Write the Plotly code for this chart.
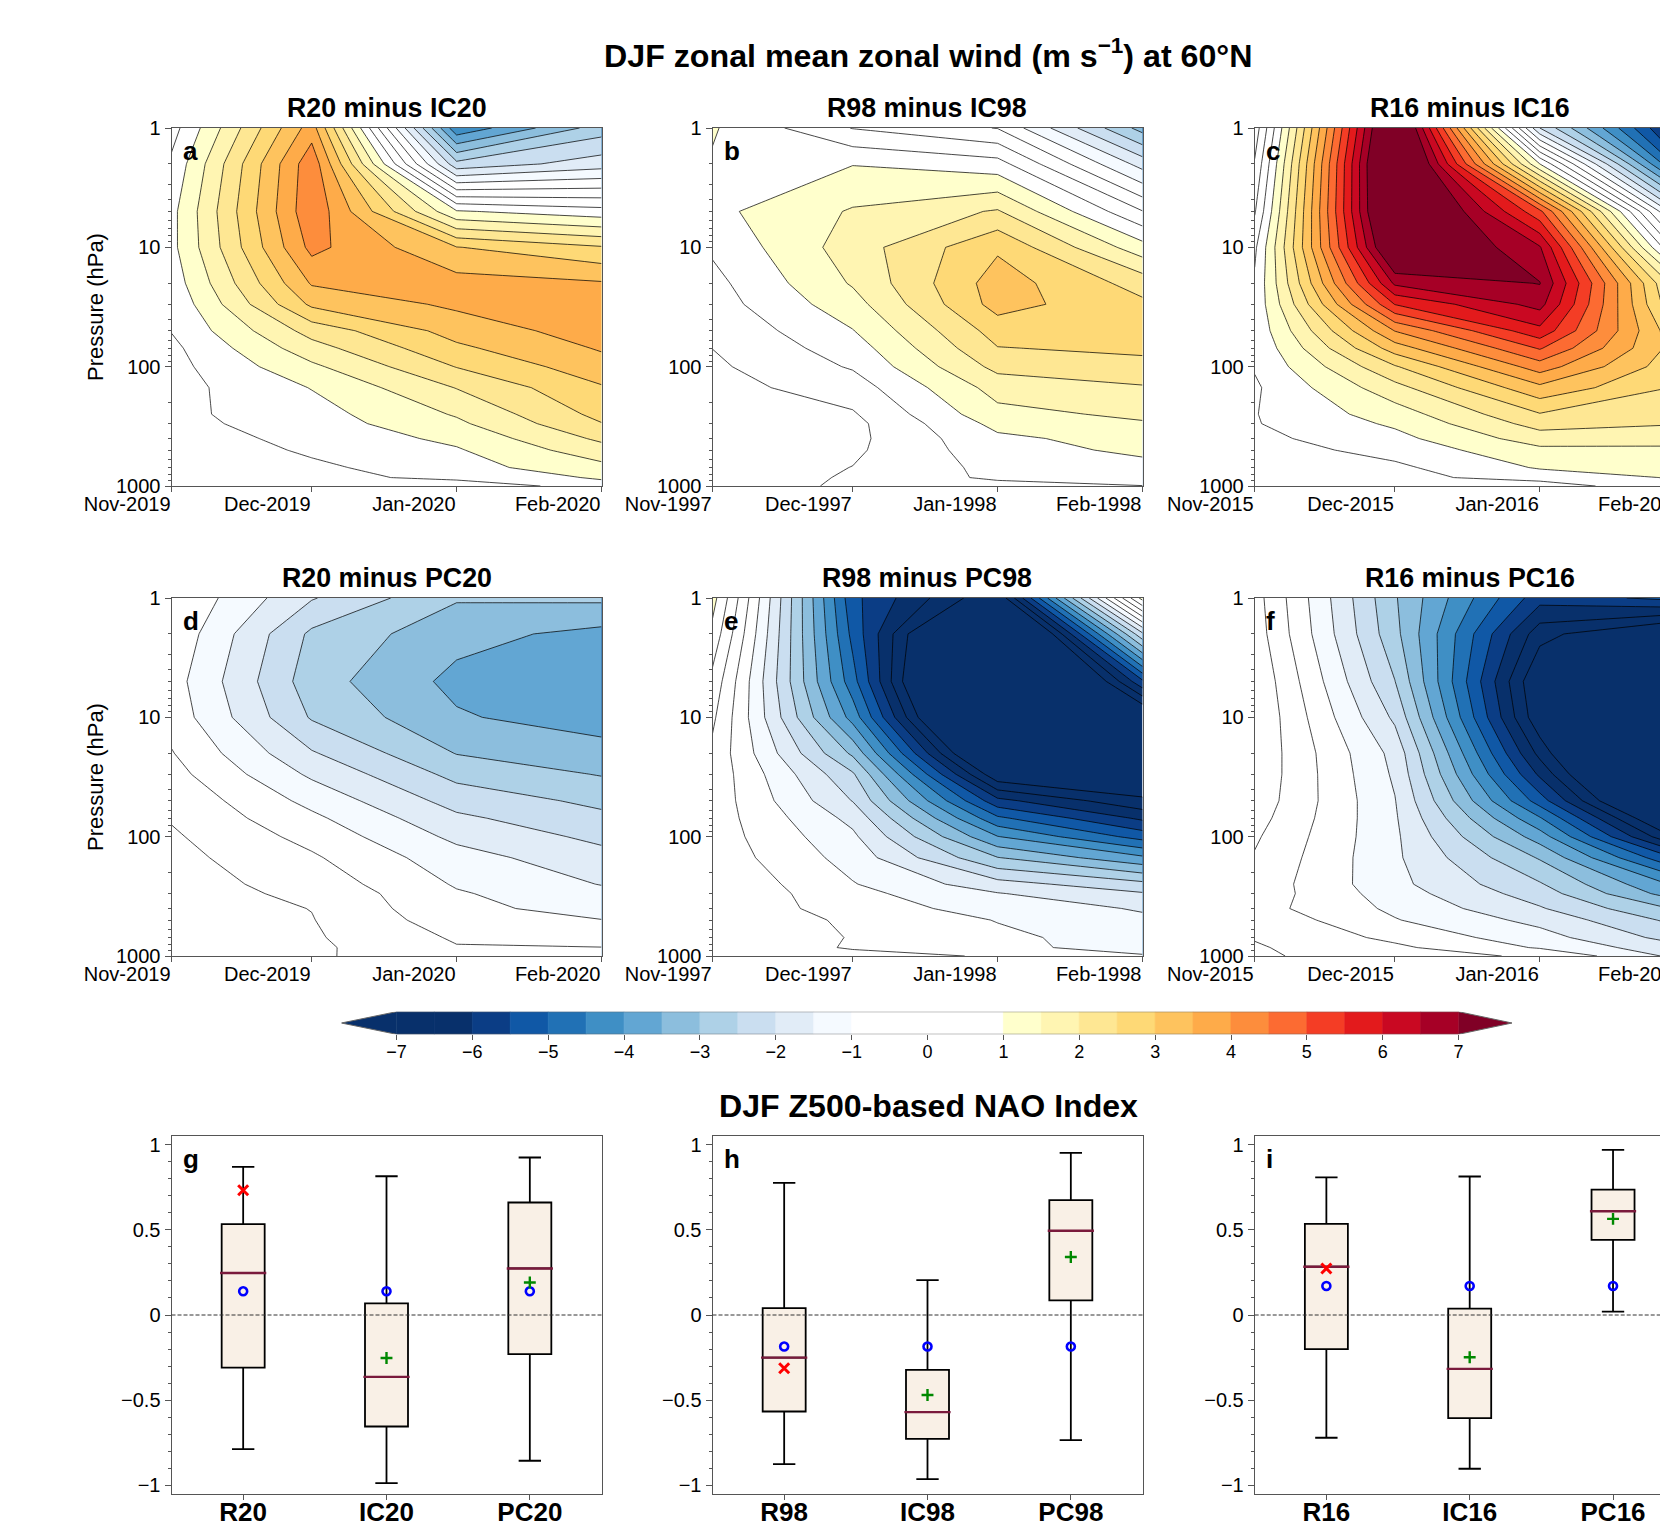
import plotly.graph_objects as go

# ---------- data ----------
months_x = [0, 30, 61, 92]
pressure = [1, 2, 5, 10, 20, 30, 50, 70, 100, 150, 250, 300, 400, 500, 700, 850, 1000]

a_nov = [.29, .6, .85, .86, .72, .6, .52, .38, .33, .31, .38, .35, .25, .12, .1, .08, .05]
a_dec = [3.75, 4.35, 4.4, 4.15, 3.55, 3.1, 2.2, 1.8, 1.4, 1.02, .8, .75, .65, .58, .4, .26, .1]
a_jan = [-4.4, -2.35, 1.05, 3.02, 3.7, 3.6, 3.2, 2.9, 2.52, 2.02, 1.55, 1.4, 1.12, .95, .8, .7, .02]
a_feb = [-2.75, -1.75, .7, 2.55, 3.55, 3.8, 3.75, 3.55, 3.3, 2.95, 2.65, 2.48, 2.1, 1.8, 1.35, 1.05, .85]

b_nov = [1.05, .95, .87, .58, .35, .27, .08, .005, -.09, -.18, -.2, -.22, -.25, -.25, -.35, -.45, -.4]
b_dec = [-.02, .98, 1.55, 1.75, 1.55, 1.3, .98, .75, .55, .25, -.05, -.14, -.13, -.09, .01, .08, .12]
b_jan = [-.52, .7, 2.05, 2.92, 3.25, 3.2, 2.72, 2.48, 2.15, 1.7, 1.35, 1.15, .9, .8, .65, .6, .3]
b_feb = [-3.2, -1.7, .02, 1.2, 2.3, 2.6, 2.75, 2.6, 2.35, 1.95, 1.6, 1.45, 1.2, 1.1, .85, .7, .49]

c_nov = [-.8, -.45, -.05, .4, .58, .63, .63, .58, .54, .43, .48, .47, .37, .26, .15, .1, .03]
c_dec = [8.5, 8.85, 8.7, 8.05, 6.6, 5.52, 4.02, 3.25, 2.45, 1.83, 1.25, 1.08, .85, .68, .4, .35, .1]
c_jan = [-2, 1.0, 5.13, 6.55, 7.02, 6.68, 5.85, 5.05, 4.25, 3.37, 2.47, 2.2, 1.75, 1.38, 1.05, .72, .2]
c_feb = [-6.6, -5.5, -2.3, -.6, 1.4, 1.7, 2.42, 2.64, 2.56, 2.4, 2.14, 2.02, 1.69, 1.4, 1.17, 1.06, .98]

d_nov = [-.52, -.61, -.78, -.7, -.47, -.32, -.11, -.04, .07, .16, .22, .2, .25, .25, .2, .15, .1]
d_dec = [-1.96, -2.6, -2.77, -2.55, -1.95, -1.59, -1.15, -.89, -.66, -.43, -.2, -.1, -.01, .02, .062, .1, .084]
d_jan = [-2.95, -3.33, -3.64, -3.44, -3.02, -2.65, -2.2, -1.9, -1.62, -1.3, -1.05, -.95, -.89, -.77, -.56, -.47, -.4]
d_feb = [-2.9, -3.65, -3.85, -3.78, -3.27, -3.03, -2.62, -2.38, -2.12, -1.83, -1.52, -1.36, -1.16, -.99, -.7, -.49, -.42]

e_nov = [1.2, .85, .35, .1, -.12, -.16, -.2, -.23, -.23, -.19, -.05, -.05, -.08, -.05, -.2, -.1, -.1]
e_dec = [-5.36, -5.15, -4.8, -4.2, -3.1, -2.43, -2.02, -1.65, -1.4, -1.2, -.97, -.85, -.75, -.6, -.52, -.55, -.33]
e_jan = [-7.5, -10, -11.2, -10.4, -8.7, -7.44, -5.85, -4.9, -3.98, -2.98, -1.8, -1.47, -1.2, -1.02, -.9, -.95, -.55]
e_feb = [1.2, -2.1, -5.6, -7.8, -8.5, -7.6, -6.9, -6.1, -5.2, -3.9, -2.35, -1.95, -1.55, -1.4, -1.22, -1.08, -.98]

f_nov = [.21, .27, .43, .46, .4, .38, .31, .2, .07, -.04, -.17, -.19, -.3, -.13, -.03, .05, .1]
f_dec = [-2.95, -2.85, -2.49, -2.1, -1.66, -1.58, -1.48, -1.44, -1.41, -1.41, -1.36, -1.26, -1.1, -.97, -.62, -.4, -.36]
f_jan = [-5.8, -6.8, -7.58, -7.42, -6.66, -6.1, -5.25, -4.45, -3.75, -3.05, -2.45, -2.25, -1.95, -1.65, -1.3, -1.05, -.55]
f_feb = [-5.3, -8, -9.5, -10, -11, -10.5, -9.5, -8.3, -7.3, -5.7, -4.2, -3.88, -3.12, -2.7, -2.26, -1.89, -1.69]

contour_titles = ['R20 minus IC20', 'R98 minus IC98', 'R16 minus IC16',
                  'R20 minus PC20', 'R98 minus PC98', 'R16 minus PC16']
years_20 = ['Nov-2019', 'Dec-2019', 'Jan-2020', 'Feb-2020']
years_98 = ['Nov-1997', 'Dec-1997', 'Jan-1998', 'Feb-1998']
years_16 = ['Nov-2015', 'Dec-2015', 'Jan-2016', 'Feb-2016']
pressure_ticks = [1, 10, 100, 1000]
pressure_ticktext = ['1', '10', '100', '1000']
pressure_minor = [2, 3, 4, 5, 6, 7, 8, 9, 20, 30, 40, 50, 60, 70, 80, 90, 200, 300, 400, 500, 600, 700, 800, 900]

# colour of each contour band: below -7, -7..-6.5, ..., 6.5..7, above 7
band_colors = ['#08306b', '#08306b', '#08306b',
               '#0b3d85', '#1058a6', '#2171b5', '#3f8fc5', '#62a6d3', '#8cbedd', '#aed1e7', '#cadef0', '#e1ecf7', '#f5faff',
               '#ffffff', '#ffffff', '#ffffff', '#ffffff',
               '#ffffcc', '#fff5b2', '#fee793', '#fed976', '#fec35e', '#feab49', '#fd8d3c', '#fc6b32', '#f43d25', '#e31a1c', '#c90822', '#a60026',
               '#800026']
cbar_ticks = [-7, -6, -5, -4, -3, -2, -1, 0, 1, 2, 3, 4, 5, 6, 7]
cbar_band_centres = [-6.75 + 0.5 * i for i in range(28)]

box_positions = [1, 2, 3]
g_labels = ['R20', 'IC20', 'PC20']
g_low = [-.787, -.986, -.855]
g_q1 = [-.309, -.654, -.229]
g_med = [.246, -.363, .273]
g_q3 = [.533, .068, .66]
g_high = [.869, .814, .924]
g_actual = [.139, .139, .139]
g_obs_x = [1]; g_obs_y = [.732]
g_plus_x = [2, 3]; g_plus_y = [-.252, .191]

h_labels = ['R98', 'IC98', 'PC98']
h_low = [-.875, -.963, -.734]
h_q1 = [-.566, -.727, .086]
h_med = [-.25, -.57, .494]
h_q3 = [.04, -.322, .674]
h_high = [.775, .205, .951]
h_actual = [-.185, -.185, -.185]
h_obs_x = [1]; h_obs_y = [-.3125]
h_plus_x = [2, 3]; h_plus_y = [-.469, .34]

i_labels = ['R16', 'IC16', 'PC16']
i_low = [-.72, -.902, .02]
i_q1 = [-.2, -.605, .441]
i_med = [.283, -.316, .609]
i_q3 = [.535, .037, .736]
i_high = [.807, .8125, .969]
i_actual = [.17, .17, .17]
i_obs_x = [1]; i_obs_y = [.273]
i_plus_x = [2, 3]; i_plus_y = [-.248, .564]

nao_ticks = [-1, -.5, 0, .5, 1]
nao_ticktext = ['\u22121', '\u22120.5', '0', '0.5', '1']
nao_minor = [-.9, -.8, -.7, -.6, -.4, -.3, -.2, -.1, .1, .2, .3, .4, .6, .7, .8, .9]

# ---------- layout helpers ----------
W, H = 1700, 1527
FONT = 'Liberation Sans'
FRAME = '#555555'
COLS = [171.5, 712.5, 1254.7]
PANEL_W = 430
PANEL_H = 358
CONTOUR_TOPS = [128, 598]
BOX_TOP = 1136


def px(x):
    return x / W


def py(y):
    return 1 - y / H


fig = go.Figure()
layout = {}
annotations = []
shapes = []


def add_text(text, x, y, size, bold=False, xanchor='center', angle=0):
    annotations.append(dict(
        text=f'<b>{text}</b>' if bold else text, x=px(x), y=py(y), xref='paper', yref='paper',
        xanchor=xanchor, yanchor='middle', showarrow=False, textangle=angle,
        font=dict(family=FONT, size=size, color='black')))


contour_sets = [
    (a_nov, a_dec, a_jan, a_feb), (b_nov, b_dec, b_jan, b_feb), (c_nov, c_dec, c_jan, c_feb),
    (d_nov, d_dec, d_jan, d_feb), (e_nov, e_dec, e_jan, e_feb), (f_nov, f_dec, f_jan, f_feb)]
year_sets = [years_20, years_98, years_16]
scale = [[k / 29, c] for k, c in enumerate(band_colors)]

for n, cols in enumerate(contour_sets):
    r, c = n // 3, n % 3
    idx = n + 1
    name = '' if idx == 1 else str(idx)
    z = [list(row) for row in zip(*cols)]
    fig.add_trace(go.Contour(
        x=months_x, y=pressure, z=z, xaxis=f'x{name}', yaxis=f'y{name}',
        autocontour=False, zmin=-7.5, zmax=7.5, colorscale=scale, showscale=False,
        contours=dict(start=-7, end=7, size=0.5, coloring='fill', showlines=True),
        line=dict(color='rgba(0,0,0,0.72)', width=1, smoothing=0), hoverinfo='skip'))
    left, top = COLS[c], CONTOUR_TOPS[r]
    layout[f'xaxis{name}'] = dict(
        domain=[px(left), px(left + PANEL_W)], range=[0, 92], anchor=f'y{name}', automargin=False,
        tickmode='array', tickvals=months_x, ticktext=year_sets[c], tickangle=0,
        ticklabelposition='outside left', ticks='outside', ticklen=5, tickcolor=FRAME,
        tickfont=dict(family=FONT, size=20, color='black'),
        showgrid=False, zeroline=False, showline=True, linecolor=FRAME, linewidth=1, mirror=True)
    layout[f'yaxis{name}'] = dict(
        domain=[py(top + PANEL_H), py(top)], type='log', range=[3, 0], anchor=f'x{name}', automargin=False,
        tickmode='array', tickvals=pressure_ticks, ticktext=pressure_ticktext,
        ticks='outside', ticklen=6, tickcolor=FRAME,
        minor=dict(tickmode='array', tickvals=pressure_minor, ticks='outside', ticklen=3, tickcolor=FRAME),
        tickfont=dict(family=FONT, size=20, color='black'),
        showgrid=False, zeroline=False, showline=True, linecolor=FRAME, linewidth=1, mirror=True)
    add_text(contour_titles[n], left + PANEL_W / 2, top - 20, 26.8, bold=True)
    add_text('abcdef'[n], left + 9.5, top + 23, 26, bold=True, xanchor='left')
    if c == 0:
        add_text('Pressure (hPa)', 95, top + PANEL_H / 2, 22, angle=-90)

box_sets = [
    (g_labels, g_low, g_q1, g_med, g_q3, g_high, g_actual, g_obs_x, g_obs_y, g_plus_x, g_plus_y),
    (h_labels, h_low, h_q1, h_med, h_q3, h_high, h_actual, h_obs_x, h_obs_y, h_plus_x, h_plus_y),
    (i_labels, i_low, i_q1, i_med, i_q3, i_high, i_actual, i_obs_x, i_obs_y, i_plus_x, i_plus_y)]

for c, s in enumerate(box_sets):
    labels, low, q1, med, q3, high, actual, ox, oy, plx, ply = s
    idx = 7 + c
    xa, ya = f'x{idx}', f'y{idx}'
    fig.add_trace(go.Box(
        x=box_positions, lowerfence=low, q1=q1, median=med, q3=q3, upperfence=high,
        width=0.3, whiskerwidth=0.52, fillcolor='#f9f0e6', line=dict(color='black', width=1.8),
        boxpoints=False, xaxis=xa, yaxis=ya, hoverinfo='skip', showlegend=False))
    fig.add_trace(go.Scatter(
        x=box_positions, y=med, mode='markers', xaxis=xa, yaxis=ya, hoverinfo='skip',
        marker=dict(symbol='line-ew', size=33, line=dict(color='#7a1a3c', width=2.4))))
    fig.add_trace(go.Scatter(
        x=box_positions, y=actual, mode='markers', xaxis=xa, yaxis=ya, hoverinfo='skip',
        marker=dict(symbol='circle-open', size=8, color='#0000ff', line=dict(color='#0000ff', width=2.6))))
    fig.add_trace(go.Scatter(
        x=plx, y=ply, mode='markers', xaxis=xa, yaxis=ya, hoverinfo='skip',
        marker=dict(symbol='cross-thin', size=8.5, line=dict(color='#008800', width=2.4))))
    fig.add_trace(go.Scatter(
        x=ox, y=oy, mode='markers', xaxis=xa, yaxis=ya, hoverinfo='skip',
        marker=dict(symbol='x-thin', size=10, line=dict(color='#ff0000', width=3))))
    left = COLS[c]
    layout[f'xaxis{idx}'] = dict(
        domain=[px(left), px(left + PANEL_W)], range=[0.5, 3.5], anchor=ya, automargin=False,
        tickmode='array', tickvals=box_positions, ticktext=labels, ticks='outside', ticklen=5, tickcolor=FRAME,
        ticklabelstandoff=-10,
        tickfont=dict(family=FONT, size=26, color='black', weight='bold'),
        showgrid=False, zeroline=False, showline=True, linecolor=FRAME, linewidth=1, mirror=True)
    layout[f'yaxis{idx}'] = dict(
        domain=[py(BOX_TOP + PANEL_H), py(BOX_TOP)], range=[-1.05, 1.05], anchor=xa, automargin=False,
        tickmode='array', tickvals=nao_ticks, ticktext=nao_ticktext, ticks='outside', ticklen=6, tickcolor=FRAME,
        minor=dict(tickmode='array', tickvals=nao_minor, ticks='outside', ticklen=3, tickcolor=FRAME),
        tickfont=dict(family=FONT, size=20, color='black'),
        showgrid=False, zeroline=False, showline=True, linecolor=FRAME, linewidth=1, mirror=True)
    shapes.append(dict(type='line', xref=f'{xa} domain', yref=ya, x0=0, x1=1, y0=0, y1=0,
                       line=dict(color='#333333', width=1, dash='4px,2px')))
    add_text('ghi'[c], left + 9.5, BOX_TOP + 23, 26, bold=True, xanchor='left')

# colour bar
CB_LEFT, CB_RIGHT, CB_TOP, CB_BOTTOM = 341.4, 1512, 1011.7, 1034.3
cb_lo, cb_hi = -7.726, 7.704
fig.add_trace(go.Bar(
    x=cbar_band_centres, y=[1] * len(cbar_band_centres), width=0.5, xaxis='x10', yaxis='y10',
    marker=dict(color=band_colors[1:29], line=dict(width=0.7, color=band_colors[1:29])), hoverinfo='skip'))
fig.add_trace(go.Scatter(
    x=[-7, cb_lo, -7, -7], y=[0, .5, 1, 0], mode='lines', fill='toself', fillcolor=band_colors[0],
    line=dict(width=0), xaxis='x10', yaxis='y10', hoverinfo='skip'))
fig.add_trace(go.Scatter(
    x=[7, cb_hi, 7, 7], y=[0, .5, 1, 0], mode='lines', fill='toself', fillcolor=band_colors[29],
    line=dict(width=0), xaxis='x10', yaxis='y10', hoverinfo='skip'))
fig.add_trace(go.Scatter(
    x=[-7, cb_lo, -7, 7, cb_hi, 7, -7], y=[0, .5, 1, 1, .5, 0, 0], mode='lines',
    line=dict(color='#666666', width=1), xaxis='x10', yaxis='y10', hoverinfo='skip'))
layout['xaxis10'] = dict(
    domain=[px(CB_LEFT), px(CB_RIGHT)], range=[cb_lo, cb_hi], anchor='y10', automargin=False,
    tickmode='array', tickvals=cbar_ticks, ticks='outside', ticklen=5, tickcolor=FRAME,
    ticklabelstandoff=-4,
    tickfont=dict(family=FONT, size=18, color='black'),
    showgrid=False, zeroline=False, showline=False)
layout['yaxis10'] = dict(
    domain=[py(CB_BOTTOM), py(CB_TOP)], range=[0, 1], anchor='x10', visible=False, fixedrange=True, automargin=False)

add_text('DJF zonal mean zonal wind (m s<sup>\u22121</sup>) at 60\u00b0N', 927.7, 53.5, 32.2, bold=True)
add_text('DJF Z500-based NAO Index', 928, 1106, 32.1, bold=True)

fig.update_layout(
    width=W, height=H, autosize=False, showlegend=False,
    margin=dict(l=0, r=0, t=0, b=0, pad=0),
    paper_bgcolor='white', plot_bgcolor='white',
    annotations=annotations, shapes=shapes, **layout)

fig.write_html('out.html', config={'displayModeBar': False}, post_script=(
    "document.body.style.margin='0';document.documentElement.style.overflow='hidden';"
    "document.body.style.overflow='hidden';"))
